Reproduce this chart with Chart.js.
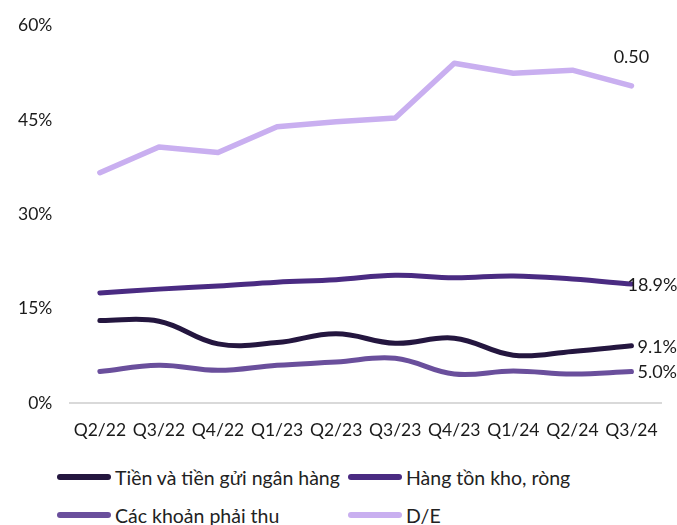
<!DOCTYPE html>
<html>
<head>
<meta charset="utf-8">
<script src="https://cdn.jsdelivr.net/npm/chart.js@4.4.1/dist/chart.umd.min.js"></script>
<style>
  body { margin: 0; background: #fff; font-family: Lato, "Noto Sans", sans-serif; }
  #wrap { position: relative; width: 677px; height: 445px; padding-top: 5px; }
  #legend { position: absolute; left: 57px; top: 466px; width: 620px; display: grid;
            grid-template-columns: 291px 300px; row-gap: 16px; font-size: 19.5px; color: #222; }
  .item { display: flex; align-items: center; height: 22px; }
  .swatch { width: 54px; height: 5.5px; border-radius: 3px; margin-right: 4px; }
</style>
</head>
<body>
<div id="wrap"><canvas id="myChart"></canvas></div>
<div id="legend"></div>
<script>
// Du lieu
const quarters = ["Q2/22", "Q3/22", "Q4/22", "Q1/23", "Q2/23", "Q3/23", "Q4/23", "Q1/24", "Q2/24", "Q3/24"];
const tien = [13.1, 13.0, 9.4, 9.6, 11.0, 9.5, 10.3, 7.6, 8.2, 9.1];
const hangTonKho = [17.5, 18.1, 18.6, 19.2, 19.6, 20.3, 19.9, 20.2, 19.7, 18.9];
const phaiThu = [5.0, 6.0, 5.2, 6.0, 6.5, 7.1, 4.6, 5.1, 4.6, 5.0];
const de = [36.6, 40.7, 39.8, 43.9, 44.7, 45.3, 54.0, 52.4, 52.9, 50.4];
const yTicks = [0, 15, 30, 45, 60];

const names = ["Tiền và tiền gửi ngân hàng", "Hàng tồn kho, ròng", "Các khoản phải thu", "D/E"];
const colors = ['#24163f', '#4a2b82', '#6a4f9c', '#c9aff0'];
const fontFam = 'Lato, "Noto Sans", sans-serif';

// nhan o diem cuoi
const endLabels = {
    id: 'endLabels',
    afterDatasetsDraw(chart) {
        const ctx = chart.ctx;
        ctx.save();
        ctx.font = '18px ' + fontFam;
        ctx.fillStyle = '#1a1a1a';
        chart.data.datasets.forEach((ds, i) => {
            const pts = chart.getDatasetMeta(i).data;
            const p = pts[pts.length - 1];
            const v = ds.data[ds.data.length - 1];
            ctx.textBaseline = 'middle';
            if (i === 3) {
                ctx.textAlign = 'center';
                ctx.fillText((v / 100).toFixed(2), p.x, p.y - 29);
            } else {
                ctx.textAlign = 'left';
                const dx = i === 1 ? -4 : 6;
                ctx.fillText(v.toFixed(1) + '%', p.x + dx, p.y + 1);
            }
        });
        ctx.restore();
    }
};

const data = {
    labels: quarters,
    datasets: [
        { label: names[0], data: tien, borderColor: colors[0], borderWidth: 5, tension: 0.4 },
        { label: names[1], data: hangTonKho, borderColor: colors[1], borderWidth: 5, tension: 0.4 },
        { label: names[2], data: phaiThu, borderColor: colors[2], borderWidth: 5, tension: 0.4 },
        { label: names[3], data: de, borderColor: colors[3], borderWidth: 5.5, tension: 0 }
    ]
};

const config = {
    type: 'line',
    data,
    options: {
        responsive: false,
        animation: false,
        elements: { point: { radius: 0 }, line: { borderCapStyle: 'round', borderJoinStyle: 'round' } },
        layout: { padding: { top: 10, right: 16, left: 8 } },
        plugins: { legend: { display: false }, tooltip: { enabled: false } },
        scales: {
            x: {
                offset: true,
                grid: { display: false },
                border: { color: '#d9d9d9', width: 2 },
                ticks: { color: '#1a1a1a', font: { size: 17.5, family: fontFam }, padding: 9, maxRotation: 0 }
            },
            y: {
                min: 0, max: 60,
                afterBuildTicks: (axis) => { axis.ticks = yTicks.map(v => ({ value: v })); },
                grid: { display: false },
                border: { display: false },
                ticks: { color: '#1a1a1a', font: { size: 17.5, family: fontFam }, padding: 10,
                         callback: (v) => v + '%' }
            }
        }
    },
    plugins: [endLabels]
};

const canvas = document.getElementById('myChart');
canvas.width = 677;
canvas.height = 445;
var myChart = new Chart(canvas, config);

// chu thich
const legend = document.getElementById('legend');
[0, 1, 2, 3].forEach((i) => {
    const it = document.createElement('div');
    it.className = 'item';
    it.innerHTML = '<span class="swatch" style="background:' + colors[i] + '"></span>' + names[i];
    legend.appendChild(it);
});
</script>
</body>
</html>
